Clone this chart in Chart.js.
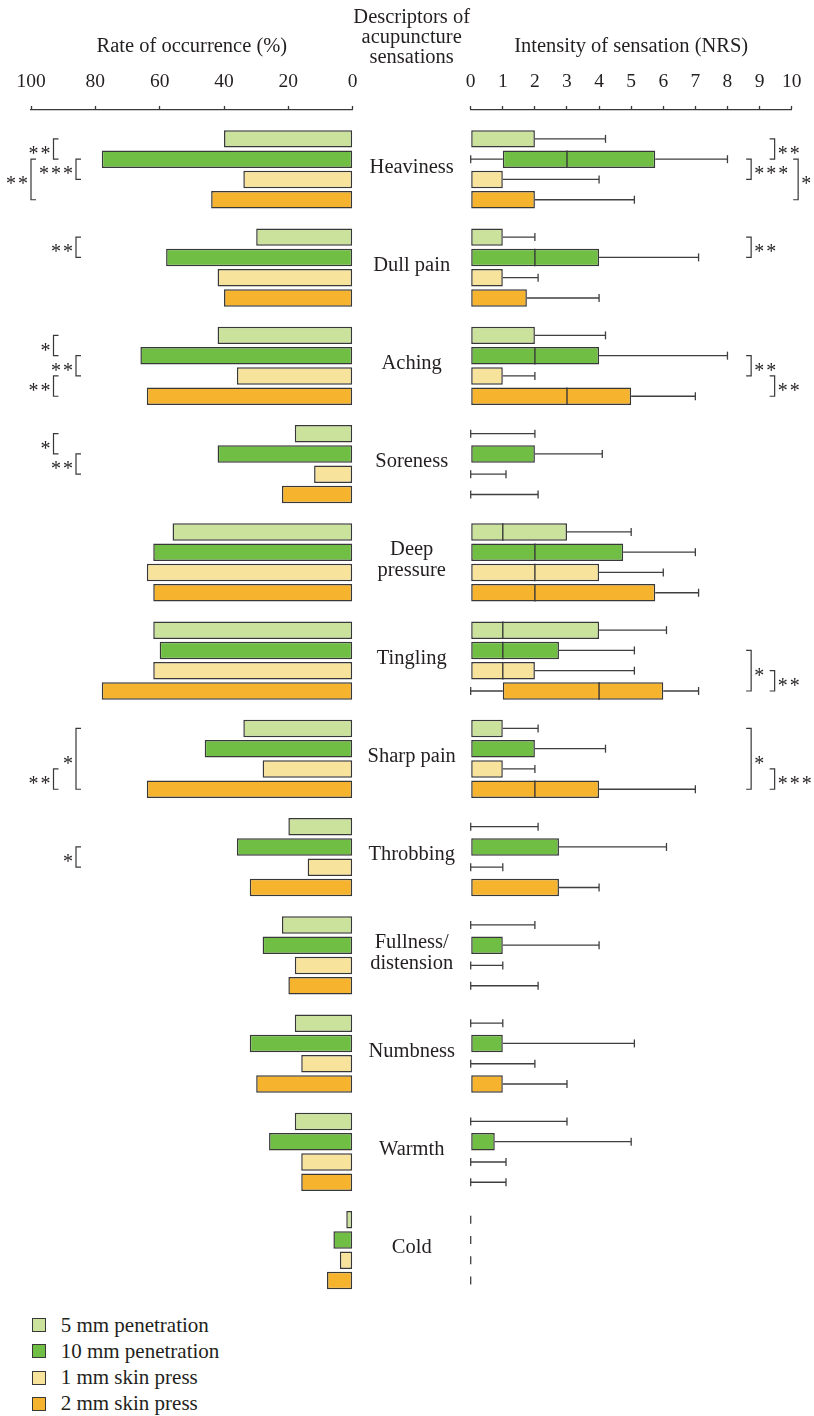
<!DOCTYPE html>
<html>
<head>
<meta charset="utf-8">
<script src="https://cdn.jsdelivr.net/npm/chart.js@4.4.1/dist/chart.umd.min.js"></script>
<style>
  html, body { margin: 0; padding: 0; background: #ffffff; }
  body { width: 814px; height: 1416px; position: relative; overflow: hidden;
         font-family: "Liberation Serif", "DejaVu Serif", serif; color: #231f20; }
  #occ { position: absolute; left: 0; top: 0; }
  #nrs { position: absolute; left: 440px; top: 0; }
  #head { position: absolute; left: 311.7px; width: 200px; top: 6.4px; text-align: center;
          font-size: 20.5px; line-height: 20px; }
  #legend { position: absolute; left: 31.7px; top: 1311.9px; font-size: 21px; }
  .row { height: 26.3px; display: flex; align-items: center; white-space: nowrap; }
  .sw { width: 12px; height: 12px; border: 1.5px solid #383838; margin-right: 15px; flex: none; }
</style>
</head>
<body>
<canvas id="occ" width="470" height="1300"></canvas>
<canvas id="nrs" width="374" height="1300"></canvas>
<div id="head">Descriptors of<br>acupuncture<br>sensations</div>
<div id="legend"></div>
<script>
// ---- data ----
const categories = ['Heaviness', 'Dull pain', 'Aching', 'Soreness', ['Deep', 'pressure'], 'Tingling',
                    'Sharp pain', 'Throbbing', ['Fullness/', 'distension'], 'Numbness', 'Warmth', 'Cold'];
const seriesNames = ['5 mm penetration', '10 mm penetration', '1 mm skin press', '2 mm skin press'];

// rate of occurrence (%)
const occ5mm  = [40, 30, 42, 18, 56, 62, 34, 20, 22, 18, 18, 2];
const occ10mm = [78, 58, 66, 42, 62, 60, 46, 36, 28, 32, 26, 6];
const occ1mm  = [34, 42, 36, 12, 64, 62, 28, 14, 18, 16, 16, 4];
const occ2mm  = [44, 40, 64, 22, 62, 78, 64, 32, 20, 30, 16, 8];

// intensity (NRS): minimum, lower quartile, median, upper quartile, maximum
// (null quartiles = no box drawn)
const nrsMin = [0, 0, 0, 0, 0, 0, 0, 0, 0, 0, 0, 0];
const nrs5mmQ1  = [0, 0, 0, null, 0, 0, 0, null, null, null, null, null];
const nrs5mmMed = [0, 0, 0, 0, 1, 1, 0, 0, 0, 0, 0, 0];
const nrs5mmQ3  = [2, 1, 2, null, 3, 4, 1, null, null, null, null, null];
const nrs5mmMax = [4.2, 2, 4.2, 2, 5, 6.1, 2.1, 2.1, 2, 1, 3, 0];

const nrs10mmQ1  = [1, 0, 0, 0, 0, 0, 0, 0, 0, 0, 0, null];
const nrs10mmMed = [3, 2, 2, 0, 2, 1, 0, 0, 0, 0, 0, 0];
const nrs10mmQ3  = [5.75, 4, 4, 2, 4.75, 2.75, 2, 2.75, 1, 1, 0.75, null];
const nrs10mmMax = [8, 7.1, 8, 4.1, 7, 5.1, 4.2, 6.1, 4, 5.1, 5, 0];

const nrs1mmQ1  = [0, 0, 0, null, 0, 0, 0, null, null, null, null, null];
const nrs1mmMed = [0, 0, 0, 0, 2, 1, 0, 0, 0, 0, 0, 0];
const nrs1mmQ3  = [1, 1, 1, null, 4, 2, 1, null, null, null, null, null];
const nrs1mmMax = [4, 2.1, 2, 1.1, 6, 5.1, 2, 1, 1, 2, 1.1, 0];

const nrs2mmQ1  = [0, 0, 0, null, 0, 1, 0, 0, null, 0, null, null];
const nrs2mmMed = [0, 0, 3, 0, 2, 4, 2, 0, 0, 0, 0, 0];
const nrs2mmQ3  = [2, 1.75, 5, null, 5.75, 6, 4, 2.75, null, 1, null, null];
const nrs2mmMax = [5.1, 4, 7, 2.1, 7.1, 7.1, 7, 4, 2.1, 3, 1.1, 0];

const occTicks = [0, 20, 40, 60, 80, 100];
const nrsTicks = [0, 1, 2, 3, 4, 5, 6, 7, 8, 9, 10];

// significance marks: category, first/second series index, nesting level, label
const occSignif = [
  { cat: 0, a: 0, b: 1, level: 1, text: '**' },
  { cat: 0, a: 1, b: 2, level: 0, text: '***' },
  { cat: 0, a: 1, b: 3, level: 2, text: '**' },
  { cat: 1, a: 0, b: 1, level: 0, text: '**' },
  { cat: 2, a: 0, b: 1, level: 1, text: '*' },
  { cat: 2, a: 1, b: 2, level: 0, text: '**' },
  { cat: 2, a: 2, b: 3, level: 1, text: '**' },
  { cat: 3, a: 0, b: 1, level: 1, text: '*' },
  { cat: 3, a: 1, b: 2, level: 0, text: '**' },
  { cat: 6, a: 0, b: 3, level: 0, text: '*' },
  { cat: 6, a: 2, b: 3, level: 1, text: '**' },
  { cat: 7, a: 1, b: 2, level: 0, text: '*' }
];
const nrsSignif = [
  { cat: 0, a: 0, b: 1, level: 1, text: '**' },
  { cat: 0, a: 1, b: 2, level: 0, text: '***' },
  { cat: 0, a: 1, b: 3, level: 2, text: '*' },
  { cat: 1, a: 0, b: 1, level: 0, text: '**' },
  { cat: 2, a: 1, b: 2, level: 0, text: '**' },
  { cat: 2, a: 2, b: 3, level: 1, text: '**' },
  { cat: 5, a: 1, b: 3, level: 0, text: '*' },
  { cat: 5, a: 2, b: 3, level: 1, text: '**' },
  { cat: 6, a: 0, b: 3, level: 0, text: '*' },
  { cat: 6, a: 2, b: 3, level: 1, text: '***' }
];

// ---- styling ----
const FONT = '"Liberation Serif", "DejaVu Serif", serif';
const INK = '#231f20';
const EDGE = '#383838';
const FILLS = ['#cbe29c', '#70bf44', '#f8e39c', '#f6b42e'];
const Y_MIN = -0.6036, Y_MAX = 11.508;
const CAT_PCT = 0.826, BAR_PCT = 0.862;

const occurrence = [occ5mm, occ10mm, occ1mm, occ2mm];
const nrsStats = [
  { q1: nrs5mmQ1,  med: nrs5mmMed,  q3: nrs5mmQ3,  max: nrs5mmMax },
  { q1: nrs10mmQ1, med: nrs10mmMed, q3: nrs10mmQ3, max: nrs10mmMax },
  { q1: nrs1mmQ1,  med: nrs1mmMed,  q3: nrs1mmQ3,  max: nrs1mmMax },
  { q1: nrs2mmQ1,  med: nrs2mmMed,  q3: nrs2mmQ3,  max: nrs2mmMax }
];

Chart.defaults.font.family = FONT;
Chart.defaults.color = INK;

function barCenter(chart, d, i) {
  return chart.getDatasetMeta(d).data[i].y;
}

function drawSignif(chart, list, side) {
  const ctx = chart.ctx;
  const area = chart.chartArea;
  ctx.save();
  ctx.strokeStyle = EDGE;
  ctx.lineWidth = 1.2;
  ctx.fillStyle = INK;
  ctx.font = '20px ' + FONT;
  ctx.letterSpacing = '2px';
  ctx.textBaseline = 'alphabetic';
  list.forEach(s => {
    const y1 = barCenter(chart, s.a, s.cat);
    const y2 = barCenter(chart, s.b, s.cat);
    let x, dir;
    if (side === 'left') { x = area.left + 45 - 22.5 * s.level; dir = 1; }
    else { x = area.right - 40.5 + 23.5 * s.level; dir = -1; }
    ctx.beginPath();
    ctx.moveTo(x + dir * 5, y1);
    ctx.lineTo(x, y1);
    ctx.lineTo(x, y2);
    ctx.lineTo(x + dir * 5, y2);
    ctx.stroke();
    ctx.textAlign = dir > 0 ? 'right' : 'left';
    ctx.fillText(s.text, x - dir * (dir > 0 ? 1 : 3), (y1 + y2) / 2 + 11);
  });
  ctx.restore();
}

const categoryLabels = {
  id: 'categoryLabels',
  afterDraw(chart) {
    const ctx = chart.ctx;
    const ys = chart.scales.y;
    const cx = chart.chartArea.right + 59;
    ctx.save();
    ctx.fillStyle = INK;
    ctx.font = '20.5px ' + FONT;
    ctx.textAlign = 'center';
    ctx.textBaseline = 'middle';
    categories.forEach((c, i) => {
      const lines = Array.isArray(c) ? c : [c];
      const yc = ys.getPixelForValue(i) - 2;
      lines.forEach((t, k) => {
        ctx.fillText(t, cx, yc + (k - (lines.length - 1) / 2) * 21);
      });
    });
    ctx.restore();
    drawSignif(chart, occSignif, 'left');
  }
};

const boxParts = {
  id: 'boxParts',
  beforeDatasetsDraw(chart) {
    const ctx = chart.ctx;
    const xs = chart.scales.x;
    ctx.save();
    ctx.strokeStyle = '#3f3f3f';
    ctx.lineWidth = 1.3;
    const cap = 4;
    const seg = (xa, xb, y) => { ctx.beginPath(); ctx.moveTo(xa, y); ctx.lineTo(xb, y); ctx.stroke(); };
    const tick = (x, y) => { ctx.beginPath(); ctx.moveTo(x, y - cap); ctx.lineTo(x, y + cap); ctx.stroke(); };
    nrsStats.forEach((s, d) => {
      categories.forEach((_, i) => {
        const y = barCenter(chart, d, i);
        const pMin = xs.getPixelForValue(nrsMin[i]);
        const pMax = xs.getPixelForValue(s.max[i]);
        if (s.q1[i] === null) {
          if (s.max[i] > nrsMin[i]) { seg(pMin, pMax, y); tick(pMax, y); }
          tick(pMin, y);
        } else {
          const p1 = xs.getPixelForValue(s.q1[i]);
          const p3 = xs.getPixelForValue(s.q3[i]);
          if (s.max[i] > s.q3[i]) { seg(p3, pMax, y); tick(pMax, y); }
          if (nrsMin[i] < s.q1[i]) { seg(pMin, p1, y); tick(pMin, y); }
        }
      });
    });
    ctx.restore();
  },
  afterDatasetsDraw(chart) {
    const ctx = chart.ctx;
    const xs = chart.scales.x;
    ctx.save();
    ctx.strokeStyle = EDGE;
    ctx.lineWidth = 1.4;
    nrsStats.forEach((s, d) => {
      const meta = chart.getDatasetMeta(d);
      categories.forEach((_, i) => {
        // a median on a box edge coincides with the outline
        if (s.q1[i] === null || s.med[i] <= s.q1[i] || s.med[i] >= s.q3[i]) return;
        const bar = meta.data[i];
        const x = xs.getPixelForValue(s.med[i]);
        ctx.beginPath();
        ctx.moveTo(x, bar.y - bar.height / 2);
        ctx.lineTo(x, bar.y + bar.height / 2);
        ctx.stroke();
      });
    });
    ctx.restore();
  },
  afterDraw(chart) {
    drawSignif(chart, nrsSignif, 'right');
  }
};

function topAxis(min, max, step, reverse, title, tickValues) {
  return {
    type: 'linear', position: 'top', min, max, reverse,
    afterBuildTicks(scale) { scale.ticks = tickValues.map(v => ({ value: v })); },
    ticks: { stepSize: step, padding: 12.6, color: INK, font: { family: FONT, size: 19.5 }, maxRotation: 0 },
    grid: { drawOnChartArea: false, tickLength: 4, color: EDGE, tickWidth: 1.3 },
    border: { color: EDGE, width: 1.3 },
    title: { display: true, text: title, color: INK, font: { family: FONT, size: 20.5 }, padding: { top: 34, bottom: 0 } },
    afterFit(scale) { scale.height = 110; }
  };
}
// one tick per descriptor so the bar band equals the descriptor spacing
const yAxis = { type: 'linear', min: Y_MIN, max: Y_MAX, reverse: true, offset: false, display: false,
                grid: { offset: false },
                afterBuildTicks(scale) { scale.ticks = categories.map((_, i) => ({ value: i })); } };
const common = {
  indexAxis: 'y', responsive: false, animation: false, devicePixelRatio: 1,
  plugins: { legend: { display: false }, tooltip: { enabled: false } }
};

new Chart(document.getElementById('occ'), {
  type: 'bar',
  data: {
    datasets: occurrence.map((vals, d) => ({
      label: seriesNames[d],
      data: vals.map((v, i) => ({ x: v, y: i })),
      backgroundColor: FILLS[d], borderColor: EDGE, borderWidth: 1.5, borderSkipped: false,
      categoryPercentage: CAT_PCT, barPercentage: BAR_PCT
    }))
  },
  options: Object.assign({}, common, {
    layout: { padding: { left: 31, right: 117.3, top: 0, bottom: 0 } },
    scales: { x: topAxis(0, 100, 20, true, 'Rate of occurrence (%)', occTicks), y: yAxis }
  }),
  plugins: [categoryLabels]
});

new Chart(document.getElementById('nrs'), {
  type: 'bar',
  data: {
    datasets: nrsStats.map((s, d) => ({
      label: seriesNames[d],
      data: categories.map((_, i) => ({ x: s.q1[i] === null ? null : [s.q1[i], s.q3[i]], y: i })),
      backgroundColor: FILLS[d], borderColor: EDGE, borderWidth: 1.5, borderSkipped: false,
      categoryPercentage: CAT_PCT, barPercentage: BAR_PCT
    }))
  },
  options: Object.assign({}, common, {
    layout: { padding: { left: 30.7, right: 19, top: 0, bottom: 0 } },
    scales: { x: topAxis(0, 10, 1, false, 'Intensity of sensation (NRS)', nrsTicks), y: yAxis }
  }),
  plugins: [boxParts]
});

// legend
const legend = document.getElementById('legend');
seriesNames.forEach((n, d) => {
  const row = document.createElement('div');
  row.className = 'row';
  const sw = document.createElement('span');
  sw.className = 'sw';
  sw.style.background = FILLS[d];
  const tx = document.createElement('span');
  tx.textContent = n;
  row.appendChild(sw);
  row.appendChild(tx);
  legend.appendChild(row);
});
</script>
</body>
</html>
